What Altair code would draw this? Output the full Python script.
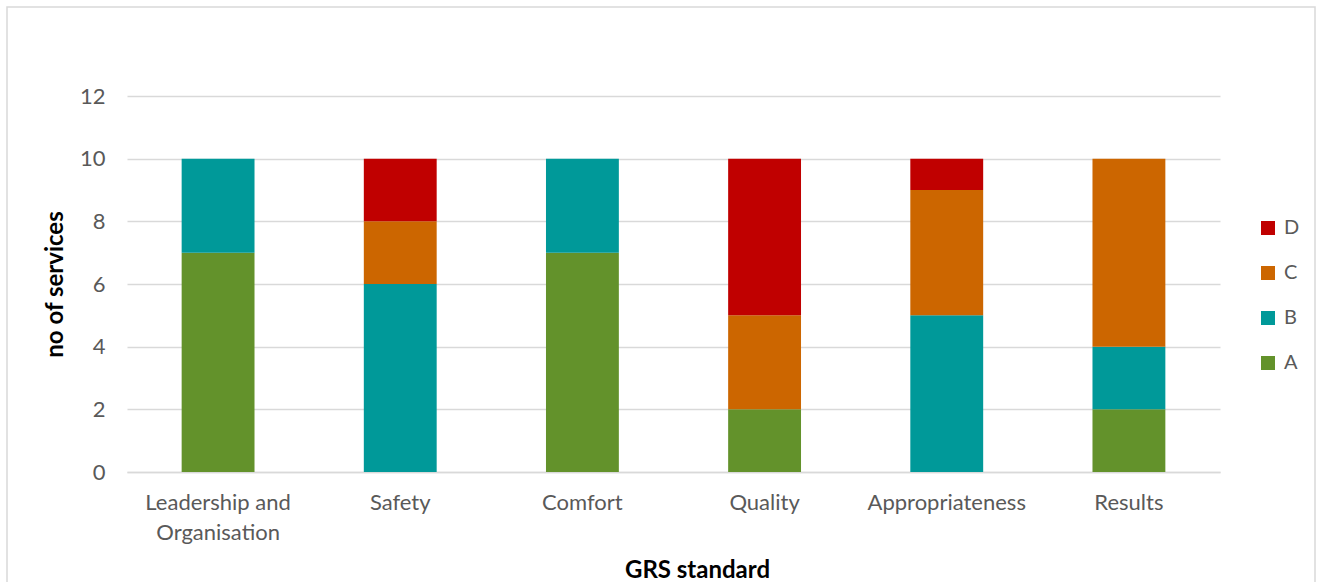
import altair as alt
import pandas as pd

# GRS standards and number of services at each rating
standards = ["Leadership and Organisation", "Safety", "Comfort", "Quality", "Appropriateness", "Results"]
ratings = ["A", "B", "C", "D"]
count_a = [7, 0, 7, 2, 0, 2]
count_b = [3, 6, 3, 0, 5, 2]
count_c = [0, 2, 0, 3, 4, 6]
count_d = [0, 2, 0, 5, 1, 0]
colors = {"A": "#63922B", "B": "#009999", "C": "#CC6600", "D": "#C00000"}

rows = []
for i, s in enumerate(standards):
    for k, (r, vals) in enumerate(zip(ratings, [count_a, count_b, count_c, count_d])):
        if vals[i] > 0:
            rows.append({"standard": s, "rating": r, "services": vals[i], "order": k})
df = pd.DataFrame(rows)

FONT = "Lato"
GREY = "#595959"

bars = alt.Chart(df).mark_bar().encode(
    x=alt.X(
        "standard:N",
        sort=standards,
        scale=alt.Scale(paddingInner=0.6, paddingOuter=0.3),
        axis=alt.Axis(
            title="GRS standard",
            labelAngle=0,
            labelFontSize=22,
            labelColor=GREY,
            labelFont=FONT,
            labelPadding=20,
            labelLineHeight=30,
            labelExpr="datum.label == 'Leadership and Organisation' ? ['Leadership and', 'Organisation'] : datum.label",
            ticks=False,
            domainColor="#D9D9D9",
            domainWidth=1.5,
            grid=False,
            titleFont=FONT,
            titleFontSize=24,
            titleFontWeight="bold",
            titleColor="#000000",
            titleX=570,
            titleY=105,
            titleBaseline="alphabetic",
        ),
    ),
    y=alt.Y(
        "services:Q",
        stack="zero",
        scale=alt.Scale(domain=[0, 12]),
        axis=alt.Axis(
            title="no of services",
            values=[0, 2, 4, 6, 8, 10, 12],
            labelFontSize=22,
            labelColor=GREY,
            labelFont=FONT,
            labelPadding=22,
            ticks=False,
            domain=False,
            gridColor="#D9D9D9",
            gridWidth=1.5,
            titleFont=FONT,
            titleFontSize=24,
            titleFontWeight="bold",
            titleColor="#000000",
            titlePadding=12,
        ),
    ),
    color=alt.Color(
        "rating:N",
        scale=alt.Scale(domain=["D", "C", "B", "A"], range=[colors[r] for r in ["D", "C", "B", "A"]]),
        legend=alt.Legend(
            title=None,
            orient="none",
            legendX=1131,
            legendY=122,
            symbolType="square",
            symbolSize=196,
            symbolStrokeWidth=0,
            labelFontSize=20,
            labelColor=GREY,
            labelFont=FONT,
            rowPadding=25,
            labelOffset=6,
        ),
    ),
    order=alt.Order("order:Q", sort="ascending"),
)

# light outer border around the whole chart area
frame = alt.Chart(pd.DataFrame({"f": [0]})).mark_rect(
    fill=None, stroke="#D9D9D9", strokeWidth=1.5
).encode(
    x=alt.value(-120), x2=alt.value(1188), y=alt.value(-89), y2=alt.value(600)
)

chart = alt.layer(frame, bars).properties(
    width=1093,
    height=376,
    autosize=alt.AutoSizeParams(type="none"),
    padding={"left": 127, "top": 96, "right": 102, "bottom": 110},
).configure(background="#FFFFFF").configure_view(strokeWidth=0, stroke="transparent")

chart.save("out.html", embed_options={"renderer": "svg", "actions": False})
